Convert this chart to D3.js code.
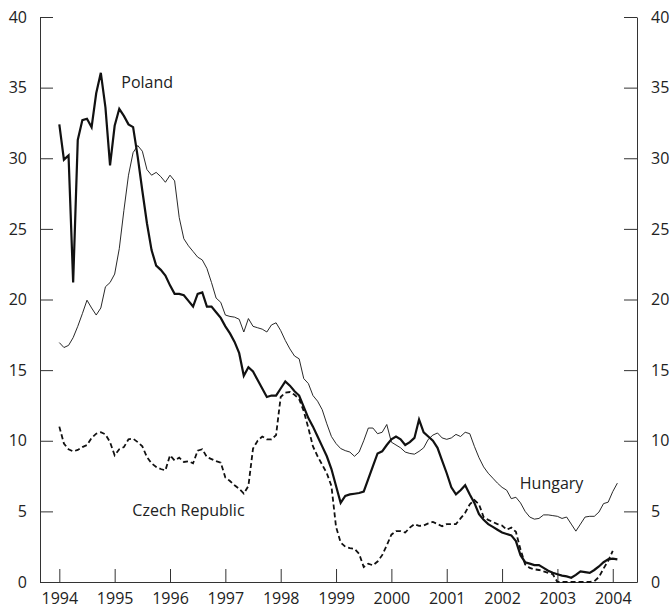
<!DOCTYPE html>
<html>
<head>
<meta charset="utf-8">
<script src="https://cdn.jsdelivr.net/npm/d3@7"></script>
<style>
  body { margin: 0; background: #fff; }
  svg text { font-family: "Open Sans", "Noto Sans", sans-serif; fill: #222; }
</style>
</head>
<body>
<div id="chart"></div>
<script>
// monthly series, Jan 1994 onwards
var poland = [32.4,29.9,30.2,21.2,31.3,32.7,32.8,32.2,34.6,36.05,33.6,29.5,
  32.3,33.5,33.0,32.4,32.2,30.1,27.7,25.4,23.5,22.4,22.1,21.7,
  21.0,20.4,20.4,20.3,19.9,19.5,20.4,20.5,19.5,19.5,19.1,18.7,
  18.1,17.6,17.0,16.2,14.6,15.2,14.9,14.3,13.7,13.1,13.2,13.2,
  13.7,14.2,13.9,13.5,13.2,12.4,11.6,11.0,10.3,9.6,8.9,8.0,
  6.8,5.6,6.1,6.2,6.25,6.3,6.4,7.3,8.2,9.1,9.25,9.7,
  10.1,10.3,10.1,9.7,9.9,10.2,11.5,10.6,10.3,10.0,9.5,8.6,
  7.7,6.7,6.2,6.5,6.85,6.2,5.6,4.8,4.4,4.1,3.9,3.7,
  3.5,3.4,3.3,2.9,1.9,1.4,1.3,1.2,1.2,1.0,0.8,0.65,
  0.55,0.45,0.4,0.3,0.5,0.75,0.7,0.65,0.85,1.1,1.4,1.6,
  1.65,1.6];

var hungary = [16.95,16.6,16.75,17.3,18.1,19.0,19.95,19.4,18.9,19.4,20.9,21.2,
  21.8,23.6,26.3,28.8,30.4,30.9,30.5,29.2,28.8,29.0,28.7,28.3,
  28.8,28.4,25.8,24.3,23.8,23.4,23.0,22.8,22.2,21.2,20.1,19.8,
  18.9,18.8,18.75,18.6,17.7,18.65,18.1,18.0,17.9,17.7,18.2,18.35,
  17.8,17.1,16.5,16.0,15.8,14.4,14.05,13.2,12.8,12.2,11.2,10.3,
  9.8,9.45,9.3,9.2,8.9,9.2,10.0,10.9,10.9,10.5,10.6,11.15,
  9.9,9.7,9.5,9.2,9.1,9.05,9.25,9.5,10.1,10.4,10.55,10.2,
  10.1,10.2,10.45,10.3,10.6,10.5,9.6,8.8,8.15,7.7,7.35,7.0,
  6.7,6.5,5.9,6.0,5.6,5.0,4.6,4.45,4.5,4.75,4.75,4.7,
  4.65,4.5,4.6,4.1,3.6,4.1,4.6,4.65,4.65,4.95,5.55,5.65,
  6.4,7.0];

var czech = [11.0,9.8,9.4,9.25,9.35,9.55,9.7,10.2,10.5,10.6,10.45,9.9,
  8.97,9.4,9.55,10.1,10.15,9.9,9.6,8.85,8.4,8.15,8.0,7.9,
  8.97,8.6,8.8,8.5,8.55,8.4,9.3,9.4,8.85,8.7,8.55,8.45,
  7.4,7.15,6.85,6.6,6.26,6.8,9.45,10.0,10.3,10.1,10.1,10.4,
  13.1,13.4,13.45,13.25,12.95,12.1,10.9,9.6,8.9,8.3,7.7,6.8,
  3.9,2.8,2.5,2.4,2.35,2.0,1.06,1.3,1.18,1.45,1.9,2.6,
  3.35,3.6,3.6,3.5,3.85,4.1,3.97,4.0,4.15,4.25,4.1,3.95,
  4.1,4.1,4.1,4.5,4.9,5.5,5.8,5.5,4.6,4.4,4.25,4.1,
  4.0,3.7,3.85,3.55,2.3,1.25,1.0,0.9,0.85,0.75,0.65,0.55,
  0,0,0,0,0,0,0,0,0.05,0.35,0.95,1.5,
  2.2];

var years = [1994,1995,1996,1997,1998,1999,2000,2001,2002,2003,2004];
var yTicks = [0,5,10,15,20,25,30,35,40];

var width = 671, height = 611;
var plotLeft = 40, plotRight = 637, plotTop = 17, plotBottom = 582;
var fontSize = 16;

var svg = d3.select("#chart").append("svg")
  .attr("width", width)
  .attr("height", height);

var x = d3.scaleLinear()
  .domain([1993.651, 2004.438])
  .range([plotLeft, plotRight]);

var y = d3.scaleLinear()
  .domain([0, 40])
  .range([plotBottom, plotTop]);

function styleAxis(g) {
  g.selectAll("path, line").attr("stroke", "#333").attr("stroke-width", 1);
  g.selectAll("text").attr("font-size", fontSize).attr("fill", "#222")
    .attr("font-family", "'Open Sans', 'Noto Sans', sans-serif");
}

// axes
svg.append("g")
  .attr("transform", "translate(" + plotLeft + ",0)")
  .call(d3.axisLeft(y).tickValues(yTicks).tickSize(-13).tickSizeOuter(0).tickPadding(13))
  .call(styleAxis);

svg.append("g")
  .attr("transform", "translate(" + plotRight + ",0)")
  .call(d3.axisRight(y).tickValues(yTicks).tickSize(-13).tickSizeOuter(0).tickPadding(14))
  .call(styleAxis);

svg.append("g")
  .attr("transform", "translate(0," + plotBottom + ")")
  .call(d3.axisBottom(x).tickValues(years).tickFormat(d3.format("d"))
    .tickSize(-13).tickSizeOuter(0).tickPadding(11))
  .call(styleAxis);

// lines
var line = d3.line()
  .x(function(d, i) { return x(1994 + i / 12); })
  .y(function(d) { return y(d); });

svg.append("path")
  .datum(hungary)
  .attr("fill", "none")
  .attr("stroke", "#111")
  .attr("stroke-width", 0.9)
  .attr("d", line);

svg.append("path")
  .datum(czech)
  .attr("fill", "none")
  .attr("stroke", "#111")
  .attr("stroke-width", 1.8)
  .attr("stroke-dasharray", "5,3")
  .attr("d", line);

svg.append("path")
  .datum(poland)
  .attr("fill", "none")
  .attr("stroke", "#111")
  .attr("stroke-width", 2.2)
  .attr("d", line);

// series labels
var labels = [
  {name: "Poland", t: 1995.12, v: 35.0},
  {name: "Czech Republic", t: 1995.32, v: 4.7},
  {name: "Hungary", t: 2002.32, v: 6.55}
];

svg.selectAll(".lbl")
  .data(labels)
  .enter()
  .append("text")
    .attr("class", "lbl")
    .attr("x", function(d) { return x(d.t); })
    .attr("y", function(d) { return y(d.v); })
    .attr("font-size", fontSize)
    .text(function(d) { return d.name; });
</script>
</body>
</html>
